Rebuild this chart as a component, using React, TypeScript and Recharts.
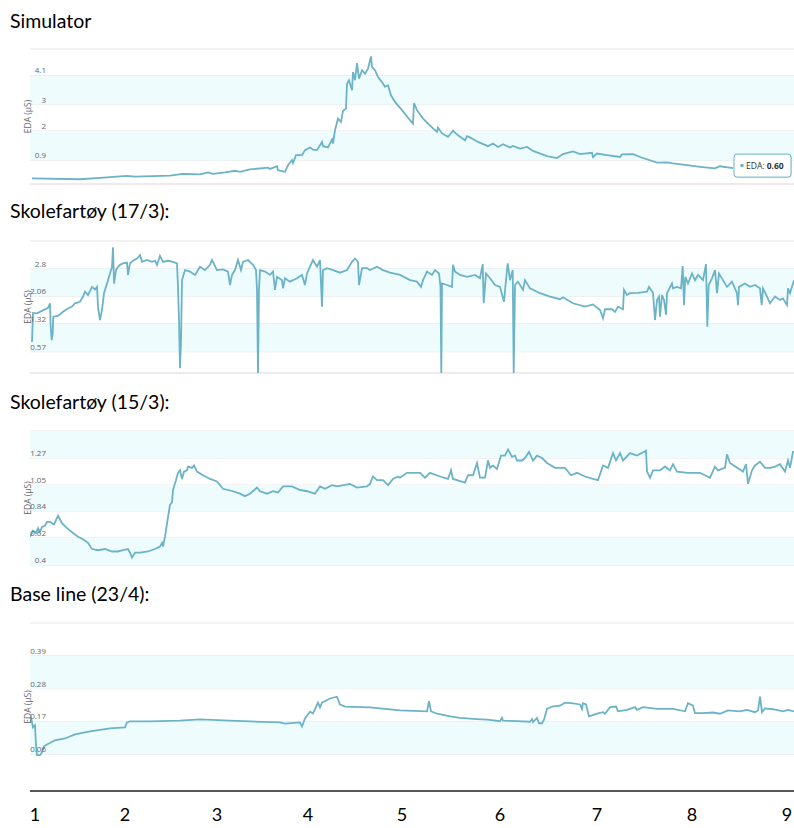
import {
  LineChart,
  Line,
  XAxis,
  YAxis,
  CartesianGrid,
  ReferenceArea,
  ReferenceLine,
  ReferenceDot,
  Label,
} from "recharts"

const LINE = "#6bb3c6"
const BAND = "#effcfe"
const GRID = "#e6e6e6"
const BASE = "#f0dfe2"

// [seconds into the window, EDA in µS]
const simulator: [number, number][] = [
  [2, 0.21], [50, 0.18], [70, 0.23], [97, 0.31], [105, 0.28], [140, 0.32], [153, 0.38],
  [170, 0.36], [178, 0.44], [183, 0.38], [195, 0.44], [205, 0.5], [210, 0.46], [220, 0.55],
  [238, 0.62], [240, 0.57], [247, 0.67], [248, 0.52], [255, 0.46], [258, 0.71], [262, 0.9],
  [263, 0.79], [266, 1.09], [272, 1.09], [275, 1.28], [280, 1.38], [283, 1.3], [287, 1.28],
  [292, 1.59], [293, 1.43], [298, 1.38], [302, 1.68], [303, 1.53], [305, 2.03], [308, 2.47],
  [311, 2.35], [313, 2.76], [316, 2.85], [317, 3.79], [319, 3.92], [322, 3.54], [323, 4.23],
  [325, 3.92], [327, 4.57], [329, 3.98], [332, 4.3], [335, 4.17], [338, 4.36], [341, 4.82],
  [342, 4.42], [345, 4.3], [348, 4.04], [352, 3.85], [355, 3.67], [358, 3.73], [361, 3.35],
  [365, 3.1], [372, 2.79], [380, 2.41], [383, 2.28], [384, 3.06], [387, 2.79], [393, 2.47],
  [403, 2.1], [407, 1.97], [408, 2.13], [412, 1.91], [418, 1.78], [420, 1.87], [423, 2.01],
  [428, 1.84], [435, 1.65], [437, 1.81], [440, 1.76], [448, 1.59], [458, 1.43], [463, 1.53],
  [468, 1.4], [473, 1.5], [480, 1.38], [483, 1.44], [490, 1.34], [497, 1.4], [503, 1.25],
  [517, 1.05], [527, 0.98], [533, 1.13], [543, 1.23], [550, 1.13], [562, 1.18], [563, 1.02],
  [567, 1.15], [577, 1.09], [590, 1.02], [592, 1.12], [603, 1.13], [610, 1.02], [627, 0.81],
  [637, 0.82], [643, 0.78], [657, 0.71], [670, 0.65], [685, 0.59], [690, 0.67], [703, 0.6],
]
const simulatorTicks = [0.9, 2, 3, 4.1, 5.1]

const school17: [number, number][] = [
  [2, 0.83], [3, 1.61], [7, 1.6], [18, 1.75], [20, 1.87], [20.7, 1.24], [21.7, 0.88],
  [22.7, 1.06], [23.3, 1.51], [28, 1.53], [33, 1.64], [38, 1.73], [42, 1.78], [45, 1.87],
  [50, 1.91], [53, 2.05], [55, 2.18], [58, 2.09], [62, 2.31], [65, 2.24], [67, 2.31],
  [68, 1.78], [70, 1.42], [72, 1.69], [74, 2.14], [77, 2.4], [80, 2.67], [82, 2.85],
  [83, 3.37], [84, 2.4], [86, 2.76], [88, 2.85], [90, 2.9], [93, 2.94], [97, 2.96],
  [98, 2.63], [100, 2.94], [103, 3.01], [107, 3.07], [110, 3.16], [112, 2.98], [117, 3.03],
  [122, 2.98], [125, 3.01], [127, 2.9], [130, 3.14], [133, 2.98], [138, 3.01], [143, 2.98],
  [147, 2.94], [148, 2.31], [149, 1.42], [150, 0.13], [151, 0.88], [152, 2.49], [155, 2.76],
  [160, 2.72], [165, 2.63], [170, 2.85], [175, 2.76], [180, 2.9], [182, 3.03], [187, 2.76],
  [193, 2.78], [198, 2.72], [200, 2.36], [202, 2.63], [205, 2.76], [208, 3.03], [211, 2.76],
  [213, 2.98], [218, 3.03], [223, 2.9], [226, 2.76], [227, 2.23], [228, 0], [229, 2.23],
  [230, 2.76], [235, 2.72], [240, 2.63], [243, 2.72], [245, 2.23], [247, 2.58], [252, 2.49],
  [253, 2.27], [255, 2.54], [260, 2.45], [267, 2.54], [272, 2.63], [275, 2.36], [277, 2.67],
  [280, 2.85], [283, 3.03], [287, 2.85], [290, 3.03], [292, 1.78], [293, 2.76], [297, 2.81],
  [303, 2.76], [310, 2.69], [317, 2.76], [322, 2.98], [325, 3.07], [328, 2.98], [329, 2.36],
  [332, 2.81], [337, 2.81], [340, 2.76], [347, 2.85], [353, 2.76], [360, 2.69], [370, 2.63],
  [380, 2.49], [387, 2.45], [391, 2.31], [393, 2.49], [397, 2.72], [402, 2.63], [405, 2.76],
  [409, 2.67], [410.5, 2.31], [411.3, 0], [412, 2.4], [417, 2.36], [422, 2.31], [423, 2.9],
  [425, 2.72], [430, 2.63], [437, 2.58], [445, 2.63], [450, 2.54], [452.7, 2.92], [453.7, 1.87],
  [456, 2.67], [460, 2.54], [465, 2.36], [470, 2.31], [474, 1.91], [476, 2.49], [477.7, 2.94],
  [480, 2.49], [482.7, 2.76], [483.7, 0], [485, 2.36], [488, 2.45], [493, 2.23], [495, 2.49],
  [500, 2.27], [510, 2.14], [520, 2.05], [530, 1.98], [533, 2.03], [543, 1.87], [555, 1.78],
  [563, 1.84], [570, 1.69], [573, 1.47], [575, 1.71], [582, 1.71], [585, 1.64], [588, 1.78],
  [593, 1.71], [594, 2.23], [597, 2.09], [600, 2.14], [608, 2.15], [617, 2.18], [619, 2.31],
  [623, 2.15], [625, 1.42], [627, 1.96], [629, 2.05], [630, 1.51], [632, 2.09], [634, 1.96],
  [636, 1.56], [637, 2.14], [642, 2.4], [643, 2.27], [647, 2.31], [651, 2.27], [652.7, 2.87],
  [654, 1.82], [655.3, 2.58], [658, 2.4], [662, 2.67], [665, 2.49], [668, 2.63], [673, 2.49],
  [676, 2.92], [677.3, 1.24], [678.7, 2.36], [682, 2.54], [685, 2.76], [687, 2.14], [689, 2.67],
  [693, 2.49], [697, 2.31], [702, 2.45], [707, 2.14], [708, 1.82], [709, 2.31], [715, 2.4],
  [720, 2.31], [725, 2.36], [730, 2.27], [731.7, 1.82], [733, 2.27], [737, 2.05], [740, 1.87],
  [745, 2.05], [750, 1.96], [753, 2.0], [757, 1.82], [758, 2.27], [760, 2.14], [764, 2.49],
]
const school17Ticks = [0.57, 1.32, 2.06, 2.8, 3.54]

const school15: [number, number][] = [
  [0, 0.63], [3, 0.68], [6, 0.66], [8, 0.7], [10, 0.67], [12, 0.71], [15, 0.72], [17, 0.75],
  [20, 0.75], [24, 0.73], [28, 0.8], [32, 0.74], [37, 0.7], [43, 0.66], [48, 0.63], [53, 0.61],
  [58, 0.58], [62, 0.53], [68, 0.52], [75, 0.53], [82, 0.51], [88, 0.51], [93, 0.52], [98, 0.53],
  [100, 0.5], [102, 0.46], [105, 0.5], [110, 0.5], [118, 0.51], [125, 0.53], [130, 0.55],
  [132, 0.58], [133, 0.55], [135, 0.63], [138, 0.79], [140, 0.89], [142, 0.91], [143, 1.01],
  [146, 1.09], [148, 1.15], [150, 1.17], [152, 1.1], [154, 1.16], [157, 1.17], [158, 1.2],
  [162, 1.19], [164, 1.21], [167, 1.16], [173, 1.13], [180, 1.1], [187, 1.08], [193, 1.02],
  [203, 1.0], [210, 0.98], [215, 0.96], [220, 0.98], [227, 1.03], [230, 1.0], [237, 0.98],
  [243, 1.0], [248, 0.99], [253, 1.04], [262, 1.04], [270, 1.01], [277, 1.0], [285, 0.98],
  [290, 1.04], [295, 1.02], [302, 1.05], [307, 1.04], [320, 1.06], [327, 1.03], [337, 1.04],
  [340, 1.06], [343, 1.12], [347, 1.09], [353, 1.09], [358, 1.05], [363, 1.1], [368, 1.12],
  [370, 1.11], [377, 1.15], [390, 1.15], [395, 1.11], [400, 1.15], [410, 1.12], [418, 1.1],
  [421, 1.17], [423, 1.1], [435, 1.07], [438, 1.13], [443, 1.13], [447, 1.23], [450, 1.11],
  [455, 1.11], [458, 1.25], [460, 1.19], [463, 1.21], [467, 1.18], [471, 1.29], [475, 1.29],
  [478, 1.34], [482, 1.28], [485, 1.29], [487, 1.25], [492, 1.25], [495, 1.27], [499, 1.32],
  [503, 1.25], [507, 1.29], [512, 1.27], [517, 1.23], [525, 1.19], [535, 1.19], [541, 1.13],
  [547, 1.15], [555, 1.12], [563, 1.1], [568, 1.09], [573, 1.21], [578, 1.19], [583, 1.31],
  [586, 1.25], [590, 1.31], [593, 1.25], [600, 1.31], [607, 1.29], [616, 1.33], [617, 1.16],
  [620, 1.11], [623, 1.17], [630, 1.17], [635, 1.2], [640, 1.17], [643, 1.22], [647, 1.16],
  [658, 1.15], [670, 1.15], [680, 1.11], [685, 1.2], [688, 1.17], [695, 1.19], [697, 1.3],
  [700, 1.23], [713, 1.16], [716, 1.22], [718, 1.06], [722, 1.17], [725, 1.21], [730, 1.24],
  [735, 1.19], [740, 1.19], [745, 1.2], [750, 1.22], [755, 1.16], [758, 1.25], [760, 1.19],
  [763, 1.32], [764, 1.32],
]
const school15Ticks = [0.4, 0.62, 0.84, 1.05, 1.27, 1.49]

const baseline: [number, number][] = [
  [0, 0.168], [1, 0.183], [2, 0.167], [3, 0.15], [5, 0.157], [6, 0.09], [7, 0.057], [10, 0.057],
  [12, 0.067], [14, 0.087], [17, 0.093], [25, 0.107], [35, 0.113], [45, 0.127], [60, 0.137],
  [80, 0.147], [95, 0.15], [97, 0.167], [100, 0.17], [120, 0.17], [150, 0.173], [170, 0.177],
  [200, 0.173], [220, 0.17], [250, 0.167], [255, 0.163], [270, 0.167], [272, 0.153], [275, 0.18],
  [280, 0.203], [283, 0.197], [288, 0.233], [290, 0.217], [292, 0.233], [300, 0.247],
  [307, 0.253], [310, 0.227], [315, 0.22], [340, 0.217], [370, 0.207], [397, 0.204],
  [399, 0.238], [401, 0.204], [407, 0.196], [413, 0.192], [420, 0.187], [430, 0.182],
  [447, 0.178], [457, 0.176], [470, 0.171], [472, 0.182], [473, 0.173], [487, 0.171],
  [500, 0.169], [502, 0.178], [503, 0.168], [507, 0.182], [509, 0.164], [512, 0.164],
  [514, 0.176], [517, 0.212], [522, 0.22], [530, 0.223], [535, 0.233], [543, 0.231],
  [550, 0.227], [552, 0.212], [553, 0.231], [556, 0.227], [559, 0.187], [567, 0.196],
  [573, 0.201], [575, 0.196], [580, 0.218], [586, 0.22], [588, 0.204], [597, 0.209],
  [605, 0.218], [607, 0.209], [613, 0.218], [627, 0.212], [643, 0.212], [655, 0.204],
  [658, 0.231], [663, 0.223], [665, 0.198], [673, 0.198], [683, 0.2], [690, 0.196],
  [698, 0.207], [710, 0.204], [717, 0.209], [725, 0.201], [728, 0.207], [730, 0.253],
  [732, 0.201], [735, 0.214], [743, 0.211], [753, 0.204], [758, 0.209], [764, 0.204],
]
const baselineTicks = [0.06, 0.17, 0.28, 0.39, 0.5]

// minute markers along the shared time axis
const minuteTicks = [5, 95, 187, 278, 372, 470, 567, 662, 757]
const minuteLabels = ["1", "2", "3", "4", "5", "6", "7", "8", "9"]

const TIME_DOMAIN: [number, number] = [0, 764]
const TICK_FONT = "'Open Sans', sans-serif"
const TITLE_FONT = "Lato, sans-serif"

const edaTick = (topTick: number) => (props: any) => {
  const { y, payload } = props
  if (payload.value === topTick) return <g />
  return (
    <text x={46} y={y - 2} textAnchor="end" fontSize={8} fill="#666" fontFamily={TICK_FONT}>
      {payload.value}
    </text>
  )
}

const EdaTitle = (props: any) => {
  const vb = props.viewBox || {}
  const cx = 27
  const cy = vb.y + vb.height / 2
  return (
    <text
      x={cx}
      y={cy}
      transform={`rotate(-90, ${cx}, ${cy})`}
      textAnchor="middle"
      dominantBaseline="central"
      fontSize={8.5}
      fill="#666"
      fontFamily={TICK_FONT}
    >
      EDA (µS)
    </text>
  )
}

const minuteTick = (props: any) => {
  const { x, y, index } = props
  return (
    <text x={x} y={y + 22} textAnchor="middle" fontSize={18} fill="#000" fontFamily={TITLE_FONT}>
      {minuteLabels[index]}
    </text>
  )
}

const tooltipShape = (value: number) => (props: any) => {
  const { cx, cy } = props
  return (
    <g>
      <rect x={cx + 2} y={cy - 13} width={57} height={23} rx={3} fill="rgba(0,0,0,0.08)" />
      <rect x={cx + 1} y={cy - 14} width={57} height={23} rx={3} fill="#fff" stroke={LINE} />
      <circle cx={cx + 9} cy={cy - 2.5} r={1.8} fill={LINE} />
      <text x={cx + 13} y={cy + 0.5} fontSize={8.5} fill="#333" fontFamily={TICK_FONT}>
        EDA: <tspan fontWeight="bold">{value.toFixed(2)}</tspan>
      </text>
    </g>
  )
}

type PanelProps = {
  title: string
  titleTop: number
  plotTop: number
  plotHeight: number
  points: [number, number][]
  ticks: number[]
  domain: [number, number]
  baseValue?: number
  showTooltip?: boolean
  showMinutes?: boolean
}

function Panel({
  title,
  titleTop,
  plotTop,
  plotHeight,
  points,
  ticks,
  domain,
  baseValue,
  showTooltip,
  showMinutes,
}: PanelProps) {
  const rows = points.map(([t, v]) => ({ t, v }))
  const bands: [number, number][] = []
  for (let i = 0; i + 1 < ticks.length; i += 2) bands.push([ticks[i], ticks[i + 1]])
  const axisHeight = showMinutes ? 37 : 0
  const last = points[points.length - 1]

  return (
    <>
      <div
        style={{
          position: "absolute",
          left: 10,
          top: titleTop,
          fontFamily: TITLE_FONT,
          fontSize: 19.5,
          lineHeight: "22px",
          color: "#000",
          whiteSpace: "nowrap",
        }}
      >
        {title}
      </div>
      <div style={{ position: "absolute", left: 0, top: plotTop - 2 }}>
        <LineChart
          width={794}
          height={plotHeight + 2 + (showMinutes ? axisHeight : 2)}
          data={rows}
          margin={{ top: 2, right: 0, bottom: showMinutes ? 0 : 2, left: 0 }}
        >
          {bands.map(([lo, hi]) => (
            <ReferenceArea key={lo} y1={lo} y2={hi} fill={BAND} fillOpacity={1} stroke="none" />
          ))}
          <CartesianGrid vertical={false} stroke={GRID} />
          {baseValue !== undefined && <ReferenceLine y={baseValue} stroke={BASE} />}
          <XAxis
            type="number"
            dataKey="t"
            domain={TIME_DOMAIN}
            allowDataOverflow
            hide={!showMinutes}
            ticks={minuteTicks}
            interval={0}
            height={axisHeight}
            tickLine={false}
            axisLine={{ stroke: "#222", strokeWidth: 1.5 }}
            tick={minuteTick}
          />
          <YAxis
            type="number"
            domain={domain}
            ticks={ticks}
            interval={0}
            allowDataOverflow
            width={30}
            axisLine={false}
            tickLine={false}
            tick={edaTick(ticks[ticks.length - 1])}
          >
            <Label content={EdaTitle} />
          </YAxis>
          <Line
            type="linear"
            dataKey="v"
            stroke={LINE}
            strokeWidth={1.8}
            dot={false}
            activeDot={false}
            isAnimationActive={false}
          />
          {showTooltip && (
            <ReferenceDot x={last[0]} y={last[1]} ifOverflow="visible" shape={tooltipShape(last[1])} />
          )}
        </LineChart>
      </div>
    </>
  )
}

export default function App() {
  return (
    <div
      style={{
        position: "absolute",
        left: 0,
        top: 0,
        width: 794,
        height: 828,
        background: "#fff",
        overflow: "hidden",
      }}
    >
      <Panel
        title="Simulator"
        titleTop={10}
        plotTop={49}
        plotHeight={135}
        points={simulator}
        ticks={simulatorTicks}
        domain={[0, 5.1]}
        baseValue={0}
        showTooltip
      />
      <Panel
        title="Skolefartøy (17/3):"
        titleTop={200}
        plotTop={241}
        plotHeight={132}
        points={school17}
        ticks={school17Ticks}
        domain={[0, 3.54]}
        baseValue={0}
      />
      <Panel
        title="Skolefartøy (15/3):"
        titleTop={391}
        plotTop={431}
        plotHeight={134}
        points={school15}
        ticks={school15Ticks}
        domain={[0.4, 1.49]}
      />
      <Panel
        title="Base line (23/4):"
        titleTop={583}
        plotTop={623}
        plotHeight={168}
        points={baseline}
        ticks={baselineTicks}
        domain={[-0.063, 0.5]}
        showMinutes
      />
    </div>
  )
}
